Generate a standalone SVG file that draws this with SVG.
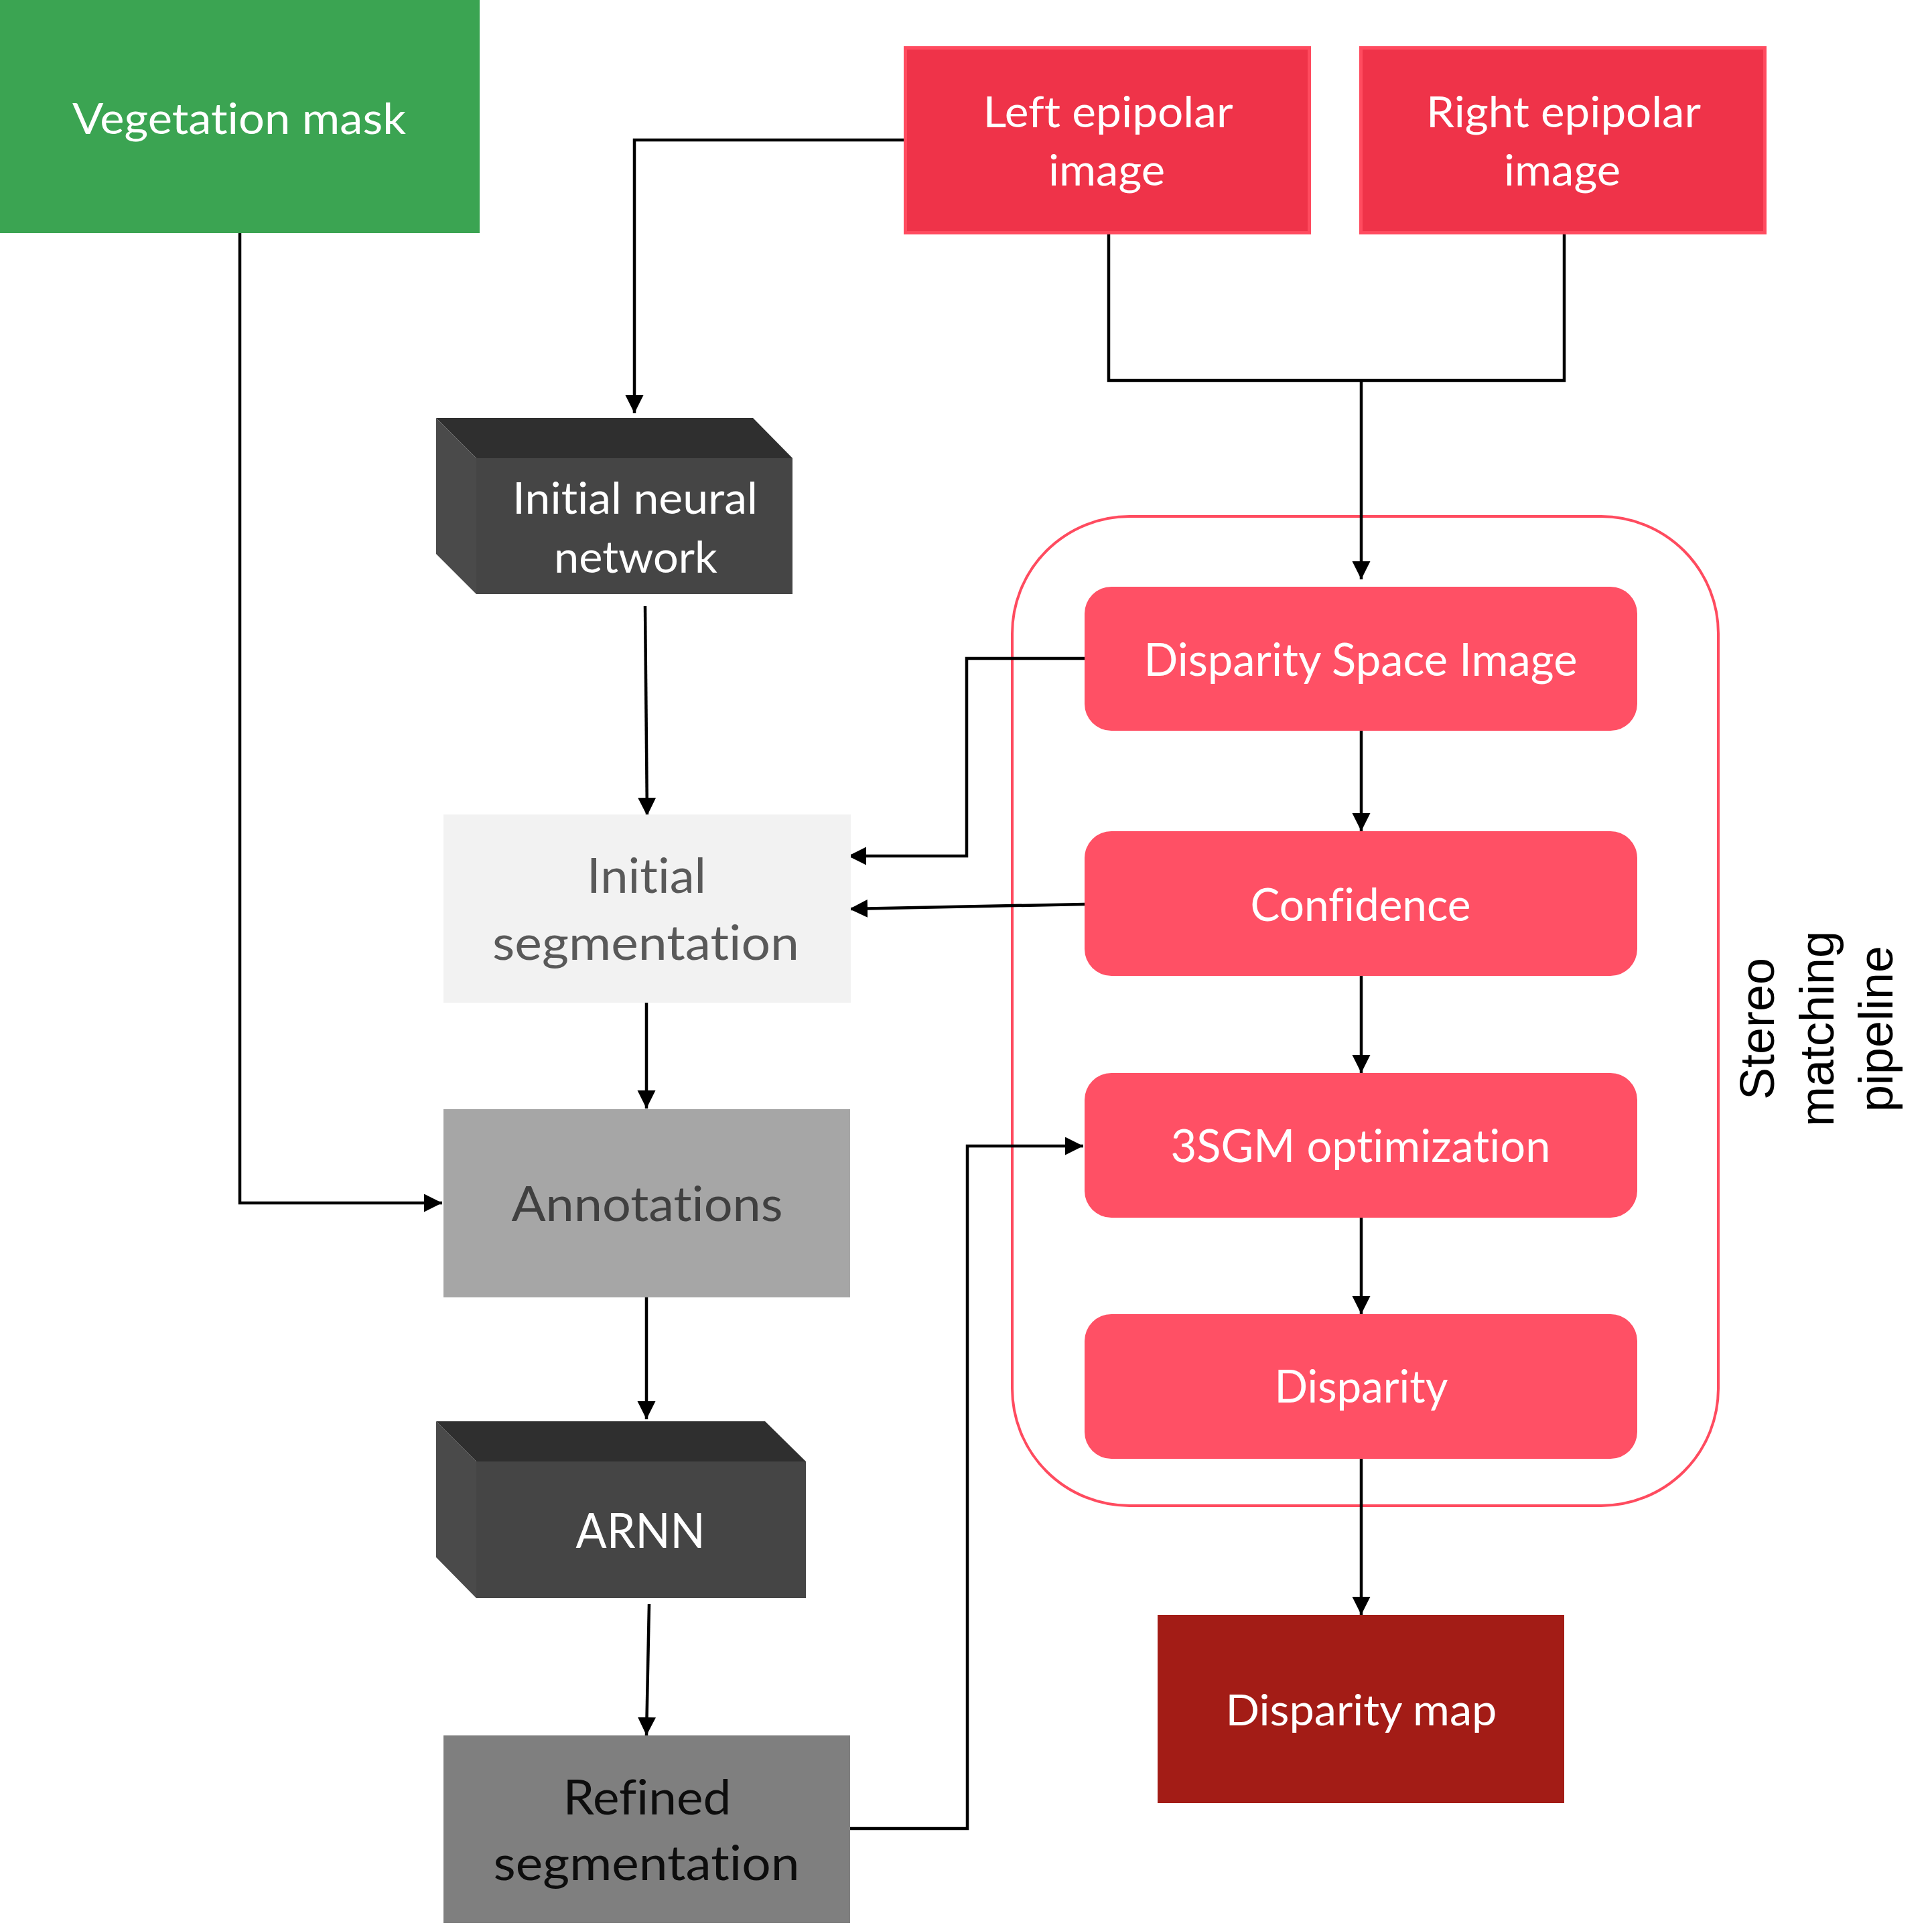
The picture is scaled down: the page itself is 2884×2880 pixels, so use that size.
<svg xmlns="http://www.w3.org/2000/svg" width="2884" height="2880" viewBox="0 0 2884 2880">
<style>
.lbl{font-family:Lato,"Open Sans","Liberation Sans",sans-serif;text-anchor:middle;font-variant-ligatures:none;font-feature-settings:"liga" 0,"clig" 0}
.w{fill:#ffffff}
.conn{fill:none;stroke:#000;stroke-width:4.5}
.pbox{fill:#FF5065}
.top{fill:#2F2F2F}
.side{fill:#4A4A4A}
.front{fill:#454545}
.vt{font-family:"Liberation Sans",Arial,sans-serif;font-size:72px;text-anchor:middle;fill:#000}
</style>
<defs>
<marker id="ah" markerUnits="userSpaceOnUse" markerWidth="28" markerHeight="28" refX="27" refY="13.5" orient="auto">
<path d="M0,0 L27,13.5 L0,27 z" fill="#000"/>
</marker>
</defs>
<rect width="2884" height="2880" fill="#ffffff"/>

<g id="container">
<rect x="1511" y="771" width="1054" height="1477" rx="175" ry="175" fill="none" stroke="#FF4B5F" stroke-width="4"/>
<text class="vt" transform="translate(2648,1536) rotate(-90)">Stereo</text>
<text class="vt" transform="translate(2737,1536) rotate(-90)">matching</text>
<text class="vt" transform="translate(2825,1536) rotate(-90)">pipeline</text>
</g>

<g id="connectors">
<path class="conn" d="M358,348 V1796 H660" marker-end="url(#ah)"/>
<path class="conn" d="M1349,209 H947 V617" marker-end="url(#ah)"/>
<path class="conn" d="M1655,350 V568 H2335 V350"/>
<path class="conn" d="M2032,568 V865" marker-end="url(#ah)"/>
<path class="conn" d="M963,905 L966,1218" marker-end="url(#ah)"/>
<path class="conn" d="M1619,983 H1443 V1278 H1266" marker-end="url(#ah)"/>
<path class="conn" d="M1619,1350 L1268,1357" marker-end="url(#ah)"/>
<path class="conn" d="M965,1497 V1655" marker-end="url(#ah)"/>
<path class="conn" d="M965,1937 V2119" marker-end="url(#ah)"/>
<path class="conn" d="M969,2395 L965,2591" marker-end="url(#ah)"/>
<path class="conn" d="M1269,2730 H1444 V1711 H1617" marker-end="url(#ah)"/>
<path class="conn" d="M2032,1091 V1241" marker-end="url(#ah)"/>
<path class="conn" d="M2032,1457 V1602" marker-end="url(#ah)"/>
<path class="conn" d="M2032,1818 V1962" marker-end="url(#ah)"/>
<path class="conn" d="M2032,2178 V2411" marker-end="url(#ah)"/>
</g>

<g id="vegetation-mask">
<rect x="0" y="0" width="716" height="348" fill="#3BA452"/>
<text class="lbl w" x="357" y="200" font-size="64" textLength="498" lengthAdjust="spacingAndGlyphs">Vegetation mask</text>
</g>

<g id="left-epipolar">
<rect x="1351.5" y="71.5" width="603" height="276" fill="#EF3349" stroke="#FF4B5F" stroke-width="5"/>
<text class="lbl w" x="1654" y="190" font-size="64" textLength="373" lengthAdjust="spacingAndGlyphs">Left epipolar</text>
<text class="lbl w" x="1652" y="277" font-size="64" textLength="174" lengthAdjust="spacingAndGlyphs">image</text>
</g>

<g id="right-epipolar">
<rect x="2031.5" y="71.5" width="603" height="276" fill="#EF3349" stroke="#FF4B5F" stroke-width="5"/>
<text class="lbl w" x="2334" y="190" font-size="64" textLength="410" lengthAdjust="spacingAndGlyphs">Right epipolar</text>
<text class="lbl w" x="2332" y="277" font-size="64" textLength="174" lengthAdjust="spacingAndGlyphs">image</text>
</g>

<g id="initial-neural-network">
<polygon class="top" points="651,624 1124,624 1183,684 711,684"/>
<polygon class="side" points="651,624 711,684 711,887 651,827"/>
<rect class="front" x="711" y="684" width="472" height="203"/>
<text class="lbl w" x="948" y="767" font-size="65" textLength="366" lengthAdjust="spacingAndGlyphs">Initial neural</text>
<text class="lbl w" x="949" y="855" font-size="65" textLength="244" lengthAdjust="spacingAndGlyphs">network</text>
</g>

<g id="initial-segmentation">
<rect x="662" y="1216" width="608" height="281" fill="#F2F2F2"/>
<text class="lbl" fill="#595959" x="965" y="1333" font-size="72" textLength="178" lengthAdjust="spacingAndGlyphs">Initial</text>
<text class="lbl" fill="#595959" x="964" y="1433" font-size="72" textLength="458" lengthAdjust="spacingAndGlyphs">segmentation</text>
</g>

<g id="annotations">
<rect x="662" y="1656" width="607" height="281" fill="#A6A6A6"/>
<text class="lbl" fill="#404040" x="966" y="1823" font-size="72" textLength="405" lengthAdjust="spacingAndGlyphs">Annotations</text>
</g>

<g id="arnn">
<polygon class="top" points="651,2122 1142,2122 1203,2182 711,2182"/>
<polygon class="side" points="651,2122 711,2182 711,2386 651,2325"/>
<rect class="front" x="711" y="2182" width="492" height="204"/>
<text class="lbl w" x="956" y="2311" font-size="72" textLength="193" lengthAdjust="spacingAndGlyphs">ARNN</text>
</g>

<g id="refined-segmentation">
<rect x="662" y="2591" width="607" height="280" fill="#7F7F7F"/>
<text class="lbl" fill="#0D0D0D" x="966" y="2709" font-size="72" textLength="251" lengthAdjust="spacingAndGlyphs">Refined</text>
<text class="lbl" fill="#0D0D0D" x="965" y="2807" font-size="72" textLength="457" lengthAdjust="spacingAndGlyphs">segmentation</text>
</g>

<g id="disparity-space-image">
<rect class="pbox" x="1619" y="876" width="825" height="215" rx="40" ry="40"/>
<text class="lbl w" x="2031" y="1009" font-size="67" textLength="647" lengthAdjust="spacingAndGlyphs">Disparity Space Image</text>
</g>

<g id="confidence">
<rect class="pbox" x="1619" y="1241" width="825" height="216" rx="40" ry="40"/>
<text class="lbl w" x="2031" y="1375" font-size="67" textLength="329" lengthAdjust="spacingAndGlyphs">Confidence</text>
</g>

<g id="sgm-optimization">
<rect class="pbox" x="1619" y="1602" width="825" height="216" rx="40" ry="40"/>
<text class="lbl w" x="2031" y="1735" font-size="67" textLength="567" lengthAdjust="spacingAndGlyphs">3SGM optimization</text>
</g>

<g id="disparity">
<rect class="pbox" x="1619" y="1962" width="825" height="216" rx="40" ry="40"/>
<text class="lbl w" x="2032" y="2094" font-size="67" textLength="259" lengthAdjust="spacingAndGlyphs">Disparity</text>
</g>

<g id="disparity-map">
<rect x="1728" y="2411" width="607" height="281" fill="#A31C16"/>
<text class="lbl w" x="2032" y="2576" font-size="64" textLength="405" lengthAdjust="spacingAndGlyphs">Disparity map</text>
</g>
</svg>
